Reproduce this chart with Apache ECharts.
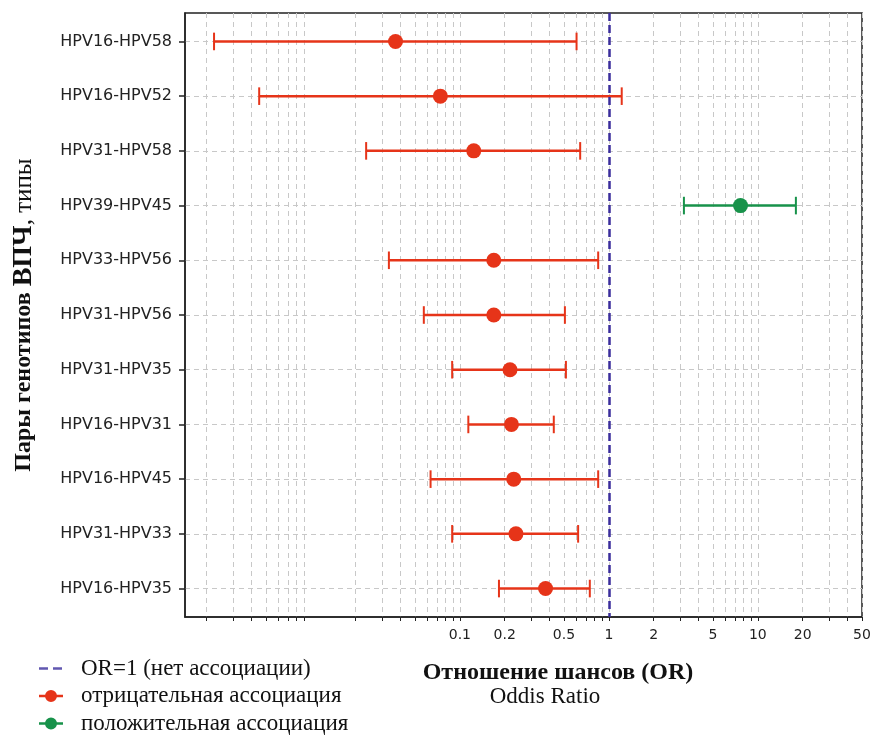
<!DOCTYPE html>
<html>
<head>
<meta charset="utf-8">
<script src="https://cdn.jsdelivr.net/npm/echarts@6/dist/echarts.min.js"></script>
<style>
  html, body { margin: 0; padding: 0; background: #fff; }
  #chart { width: 874px; height: 736px; }
</style>
</head>
<body>
<div id="chart"></div>
<script>
// пары генотипов, сверху вниз
const categories = [
  'HPV16-HPV58', 'HPV16-HPV52', 'HPV31-HPV58', 'HPV39-HPV45', 'HPV33-HPV56', 'HPV31-HPV56',
  'HPV31-HPV35', 'HPV16-HPV31', 'HPV16-HPV45', 'HPV31-HPV33', 'HPV16-HPV35'
];
const oddsRatio = [0.037, 0.074, 0.124, 7.65, 0.169, 0.169, 0.217, 0.222, 0.230, 0.238, 0.376];
const ciLower = [0.00224, 0.0045, 0.0235, 3.19, 0.0334, 0.0573, 0.0888, 0.114, 0.0636, 0.0888, 0.183];
const ciUpper = [0.607, 1.22, 0.642, 18.0, 0.848, 0.507, 0.515, 0.427, 0.848, 0.622, 0.745];

// деления логарифмической оси
const xTicks = [
  0.002, 0.003, 0.004, 0.005, 0.006, 0.007, 0.008, 0.009,
  0.02, 0.03, 0.04, 0.05, 0.06, 0.07, 0.08, 0.09,
  0.1, 0.2, 0.3, 0.4, 0.5, 0.6, 0.7, 0.8, 0.9,
  1, 2, 3, 4, 5, 6, 7, 8, 9,
  10, 20, 30, 40, 50
];
const xTickLabels = [0.1, 0.2, 0.5, 1, 2, 5, 10, 20, 50];

const RED = '#e63419';
const GREEN = '#17924a';
const NAVY = '#3a2d9c';
const SERIF = '"Liberation Serif", "Times New Roman", serif';
const SANS = '"DejaVu Sans", sans-serif';

const rows = categories.map((c, i) => [i, ciLower[i], ciUpper[i], oddsRatio[i]]);
const negative = [];
const positive = [];
oddsRatio.forEach((v, i) => {
  (v < 1 ? negative : positive).push([v, i]);
});

const chart = echarts.init(document.getElementById('chart'));

chart.setOption({
  animation: false,
  backgroundColor: '#fff',
  grid: {
    left: 185,
    right: 12,
    top: 13,
    bottom: 119,
    outerBoundsMode: 'none',
    containLabel: false,
    show: true,
    borderColor: '#222',
    borderWidth: 1.5,
  },
  legend: {
    orient: 'vertical',
    left: 38,
    top: 657,
    padding: 0,
    itemWidth: 38,
    itemHeight: 14,
    itemGap: 4.5,
    selectedMode: false,
    textStyle: {
      fontFamily: SERIF,
      fontSize: 23,
      lineHeight: 22,
      color: '#111',
    },
    data: [
      { name: 'OR=1 (нет ассоциации)', icon: 'path://M0,0 M38,14 M1,5.8 h9 v2.4 h-9 z M15,5.8 h9 v2.4 h-9 z' },
      { name: 'отрицательная ассоциация', icon: 'path://M0,0 M38,14 M1,5.8 h24 v2.4 h-24 z M19,7 A6,6 0 1,1 7,7 A6,6 0 1,1 19,7 z' },
      { name: 'положительная ассоциация', icon: 'path://M0,0 M38,14 M1,5.8 h24 v2.4 h-24 z M19,7 A6,6 0 1,1 7,7 A6,6 0 1,1 19,7 z' },
    ],
  },
  xAxis: {
    type: 'log',
    logBase: 10,
    min: 0.00143,
    max: 50,
    axisLine: { show: true, onZero: false, lineStyle: { color: '#222', width: 1.5 } },
    axisTick: {
      show: true,
      length: 4,
      customValues: xTicks,
      lineStyle: { color: '#222', width: 1 },
    },
    axisLabel: {
      customValues: xTickLabels,
      margin: 11,
      fontFamily: SANS,
      fontSize: 14,
      color: '#222',
      formatter: (v) => String(+v.toPrecision(3)),
    },
    splitLine: {
      show: true,
      lineStyle: { color: '#c8c8c8', width: 1, type: [5, 4] },
    },
    minorTick: { show: false },
  },
  yAxis: {
    type: 'value',
    inverse: true,
    min: -0.52,
    max: 10.52,
    name: '{b|Пары генотипов }{big|ВПЧ}{r|, типы}',
    nameLocation: 'middle',
    nameRotate: 90,
    nameGap: 147,
    nameTextStyle: {
      rich: {
        b: { fontFamily: SERIF, fontWeight: 'bold', fontSize: 24, color: '#111' },
        big: { fontFamily: SERIF, fontWeight: 'bold', fontSize: 28, color: '#111' },
        r: { fontFamily: SERIF, fontSize: 25, color: '#111' },
      },
    },
    axisLine: { show: true, onZero: false, lineStyle: { color: '#222', width: 1.5 } },
    axisTick: {
      show: true,
      length: 6,
      customValues: categories.map((c, i) => i),
      lineStyle: { color: '#222', width: 1.5 },
    },
    axisLabel: {
      customValues: categories.map((c, i) => i),
      margin: 13,
      fontFamily: SANS,
      fontSize: 16,
      color: '#222',
      formatter: (v) => categories[Math.round(v)],
    },
    splitLine: {
      show: true,
      lineStyle: { color: '#c8c8c8', width: 1, type: [5, 4] },
    },
  },
  graphic: [
    {
      type: 'text',
      x: 558,
      y: 673,
      style: {
        text: 'Отношение шансов (OR)',
        fontFamily: SERIF,
        fontWeight: 'bold',
        fontSize: 24,
        fill: '#111',
        textAlign: 'center',
        textVerticalAlign: 'middle',
      },
    },
    {
      type: 'text',
      x: 545,
      y: 697,
      style: {
        text: 'Oddis Ratio',
        fontFamily: SERIF,
        fontSize: 23,
        fill: '#111',
        textAlign: 'center',
        textVerticalAlign: 'middle',
      },
    },
  ],
  series: [
    {
      name: 'OR=1 (нет ассоциации)',
      type: 'scatter',
      data: [],
      itemStyle: { color: NAVY },
    },
    {
      // доверительные интервалы
      type: 'custom',
      data: rows,
      encode: { x: [1, 2], y: 0 },
      z: 2,
      silent: true,
      renderItem(params, api) {
        const y = api.value(0);
        const lo = api.coord([api.value(1), y]);
        const hi = api.coord([api.value(2), y]);
        const color = api.value(3) >= 1 ? GREEN : RED;
        const cap = 8.8;
        return {
          type: 'group',
          children: [
            { type: 'line', shape: { x1: lo[0], y1: lo[1], x2: hi[0], y2: hi[1] }, style: { stroke: color, lineWidth: 2.5 } },
            { type: 'line', shape: { x1: lo[0], y1: lo[1] - cap, x2: lo[0], y2: lo[1] + cap }, style: { stroke: color, lineWidth: 2 } },
            { type: 'line', shape: { x1: hi[0], y1: hi[1] - cap, x2: hi[0], y2: hi[1] + cap }, style: { stroke: color, lineWidth: 2 } },
          ],
        };
      },
    },
    {
      name: 'отрицательная ассоциация',
      type: 'scatter',
      data: negative,
      symbolSize: 15,
      z: 3,
      itemStyle: { color: RED, opacity: 1 },
      markLine: {
        silent: true,
        symbol: ['none', 'none'],
        label: { show: false },
        lineStyle: { color: NAVY, width: 2.5, type: [8, 4] },
        data: [{ xAxis: 1 }],
      },
    },
    {
      name: 'положительная ассоциация',
      type: 'scatter',
      data: positive,
      symbolSize: 15,
      z: 3,
      itemStyle: { color: GREEN, opacity: 1 },
    },
  ],
});
</script>
</body>
</html>
